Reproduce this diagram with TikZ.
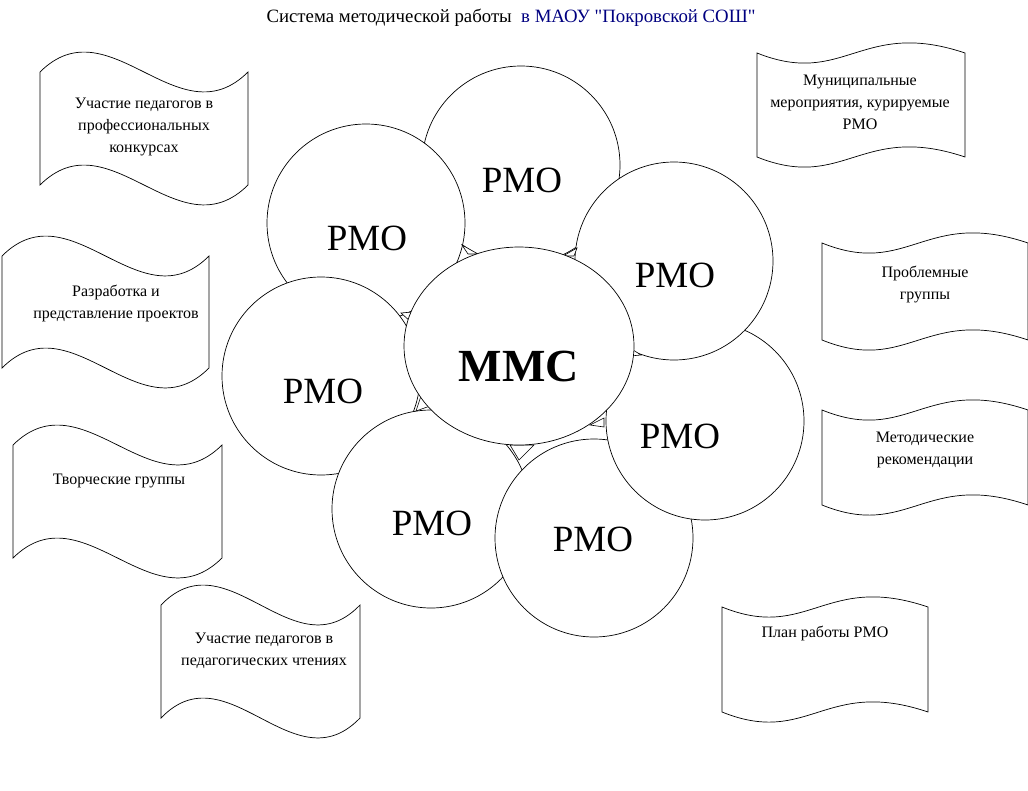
\documentclass[tikz,border=0pt]{standalone}
\usepackage{fontspec}
\setmainfont{Liberation Serif}
\newfontfamily\plainq{Liberation Serif}
\usetikzlibrary{shapes.geometric}
\definecolor{titleblue}{RGB}{0,0,128}
\newcommand\sq{{\plainq"}}
\newcommand\wavA[4]{%
  \draw[wavline] (#1,#3) .. controls ({#1+(#2-#1)/3},{#3-69}) and ({#1+2*(#2-#1)/3},{#3+69}) .. (#2,#3)
    -- (#2,#4) .. controls ({#1+2*(#2-#1)/3},{#4+69}) and ({#1+(#2-#1)/3},{#4-69}) .. (#1,#4) -- cycle;}
\newcommand\wavB[4]{%
  \draw[wavline] (#1,#3) .. controls ({#1+0.42*(#2-#1)},{#3+35}) and ({#1+0.5*(#2-#1)},{#3-35}) .. (#2,#3)
    -- (#2,#4) .. controls ({#1+0.5*(#2-#1)},{#4-35}) and ({#1+0.42*(#2-#1)},{#4+35}) .. (#1,#4) -- cycle;}
\begin{document}
\begin{tikzpicture}[x=1pt,y=-1pt,
  wavline/.style={draw=black,line width=0.7pt,fill=white},
  rmo/.style={circle,draw=black,line width=0.7pt,fill=white,minimum size=198pt,inner sep=0pt},
  rmotext/.style={font=\fontsize{37}{40}\selectfont,inner sep=0pt},
  boxtext/.style={font=\fontsize{16}{22}\selectfont,align=center,inner sep=0pt},
  tri/.style={draw=black,line width=0.6pt,fill=white}]
\useasboundingbox (0,0) rectangle (1028,790);
% title
\node[inner sep=0pt,font=\fontsize{18.8}{20}\selectfont] (title) at (511,18) {Система методической работы \ \textcolor{titleblue}{в МАОУ \sq Покровской СОШ\sq}};
% wave boxes left (type A)
\wavA{40}{248}{72}{185}
\node[boxtext] (t1) at (144,127) {Участие педагогов в\\профессиональных\\конкурсах};
\wavA{2}{209}{256}{368}
\node[boxtext] (t2) at (116,303) {Разработка и\\представление проектов};
\wavA{13}{222}{445}{558}
\node[boxtext] (t3) at (119,481) {Творческие группы};
\wavA{161}{360}{605}{718}
\node[boxtext] (t4) at (264,651) {Участие педагогов в\\педагогических чтениях};
% wave boxes right (type B)
\wavB{757}{965}{53}{157}
\node[boxtext] (t5) at (860,102) {Муниципальные\\мероприятия, курируемые\\РМО};
\wavB{822}{1028}{243}{340}
\node[boxtext] (t6) at (925,284) {Проблемные\\группы};
\wavB{822}{1028}{410}{505}
\node[boxtext] (t7) at (925,450) {Методические\\рекомендации};
\wavB{722}{928}{607}{712}
\node[boxtext] (t8) at (825,633) {План работы РМО};
% circles
\node[rmo] (c1) at (521,165) {};
\node[rmo] (c2) at (366,223) {};
\node[rmo] (c3) at (321,376) {};
\node[rmo] (c4) at (431,509) {};
\node[rmo] (c5) at (594,538) {};
\node[rmo] (c6) at (705,421) {};
\node[rmo] (c7) at (674,261) {};
\node[rmotext] (r1) at (522,180) {РМО};
\node[rmotext] (r2) at (367,238) {РМО};
\node[rmotext] (r3) at (323,391) {РМО};
\node[rmotext] (r4) at (432,523) {РМО};
\node[rmotext] (r5) at (593,539) {РМО};
\node[rmotext] (r6) at (680,436) {РМО};
\node[rmotext] (r7) at (675,275) {РМО};
% small connector wedges
\draw[tri] (462,245) -- (478,254) -- (468,254) -- cycle;
\draw[tri] (577,248) -- (563,256) -- (574,256) -- cycle;
\draw[tri] (401,313) -- (411,322) -- (412,312) -- cycle;
\draw[tri] (416,411) -- (421,396) -- (430,406) -- cycle;
\draw[tri] (510,445) -- (534,445) -- (519,460) -- cycle;
\draw[tri] (590,425) -- (604,418) -- (604,427) -- cycle;
\draw[tri] (630,348) -- (641,355) -- (630,356) -- cycle;
% central ellipse
\node[ellipse,draw=black,line width=0.7pt,fill=white,minimum width=230pt,minimum height=198pt,inner sep=0pt] (mmc) at (519,346) {};
\node[inner sep=0pt,font=\fontsize{46}{50}\selectfont\bfseries] (mmct) at (519,366) {ММС};
\end{tikzpicture}
\end{document}
